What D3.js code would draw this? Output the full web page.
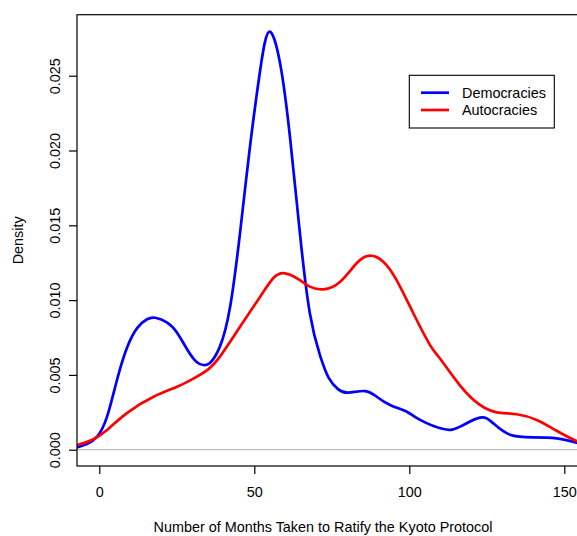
<!DOCTYPE html>
<html>
<head>
<meta charset="utf-8">
<script src="https://cdn.jsdelivr.net/npm/d3@7"></script>
<style>
  html, body { margin: 0; padding: 0; background: #fff; }
  svg { display: block; font-family: "Liberation Sans", Arial, Helvetica, sans-serif; }
</style>
</head>
<body>
<svg id="chart" width="577" height="536"></svg>
<script>
// Kernel density estimates of months taken to ratify the Kyoto Protocol
const seriesNames = ["Democracies", "Autocracies"];
const seriesColors = ["#0000ff", "#ff0000"];

const demMonths  = [-7.2, -4.0, -0.7, 2.5, 5.7, 8.9, 12.2, 15.4, 18.1, 21.9, 25.1, 28.3, 31.5, 33.7, 35.7, 38.9, 42.2, 45.4, 48.6, 51.9, 54.8, 58.3, 61.5, 64.7, 67.9, 71.2, 74.0, 77.0, 80.3, 85.7, 89.5, 93.8, 99.2, 103.5, 111.0, 116.4, 122.8, 127.1, 132.5, 140.0, 147.5, 154.0, 158.0];
const demDensity = [0.00015, 0.00038, 0.00087, 0.00221, 0.00466, 0.00680, 0.00813, 0.00872, 0.00882, 0.00850, 0.00782, 0.00672, 0.00584, 0.00566, 0.00580, 0.00689, 0.00956, 0.01449, 0.02025, 0.02538, 0.02794, 0.02585, 0.02092, 0.01449, 0.00914, 0.00630, 0.00480, 0.00405, 0.00381, 0.00392, 0.00354, 0.00299, 0.00254, 0.00199, 0.00138, 0.00154, 0.00214, 0.00176, 0.00100, 0.00083, 0.00076, 0.00047, 0.00030];

const autMonths  = [-7.2, -2.4, 2.5, 8.9, 17.5, 25.1, 30.5, 34.7, 38.9, 45.4, 51.9, 56.1, 59.9, 64.7, 67.9, 72.3, 77.7, 83.0, 87.3, 91.6, 95.9, 101.3, 106.7, 109.9, 116.4, 122.8, 128.2, 134.6, 141.1, 147.5, 154.0, 158.0];
const autDensity = [0.00031, 0.00065, 0.00132, 0.00245, 0.00354, 0.00421, 0.00477, 0.00530, 0.00622, 0.00822, 0.01023, 0.01146, 0.01179, 0.01134, 0.01090, 0.01072, 0.01123, 0.01246, 0.01297, 0.01257, 0.01134, 0.00912, 0.00699, 0.00610, 0.00429, 0.00299, 0.00250, 0.00237, 0.00199, 0.00127, 0.00058, 0.00030];

const xTicks = [0, 50, 100, 150];
const yTicks = [0, 0.005, 0.010, 0.015, 0.020, 0.025];

const xLabel = "Number of Months Taken to Ratify the Kyoto Protocol";
const yLabel = "Density";

// Plot region
const plot = { left: 77, right: 590, top: 14.7, bottom: 466 };

const svg = d3.select("#chart");

const x = d3.scaleLinear().domain([0, 150]).range([99.3, 564.3]);
const y = d3.scaleLinear().domain([0, 0.025]).range([449.7, 75.7]);

svg.append("clipPath").attr("id", "plot-clip")
  .append("rect")
  .attr("x", plot.left).attr("y", plot.top)
  .attr("width", plot.right - plot.left).attr("height", plot.bottom - plot.top);

const inner = svg.append("g").attr("clip-path", "url(#plot-clip)");

// Zero baseline
inner.append("line")
  .attr("x1", plot.left).attr("x2", plot.right)
  .attr("y1", y(0)).attr("y2", y(0))
  .attr("stroke", "#bebebe").attr("stroke-width", 1.2);

const line = d3.line()
  .x(d => x(d[0]))
  .y(d => y(d[1]))
  .curve(d3.curveNatural);

const series = [
  d3.zip(demMonths, demDensity),
  d3.zip(autMonths, autDensity)
];

series.forEach((pts, i) => {
  inner.append("path")
    .datum(pts)
    .attr("d", line)
    .attr("fill", "none")
    .attr("stroke", seriesColors[i])
    .attr("stroke-width", 2.7)
    .attr("stroke-linejoin", "round");
});

// Frame
svg.append("rect")
  .attr("x", plot.left).attr("y", plot.top)
  .attr("width", plot.right - plot.left).attr("height", plot.bottom - plot.top)
  .attr("fill", "none").attr("stroke", "#000").attr("stroke-width", 1.2);

// Axes
const fontSize = 14.4;

const xAxis = svg.append("g")
  .attr("transform", `translate(0,${plot.bottom})`)
  .call(d3.axisBottom(x).tickValues(xTicks).tickSize(8).tickPadding(13).tickFormat(d3.format("d")));
xAxis.select(".domain").remove();
xAxis.selectAll("line").attr("stroke", "#000").attr("stroke-width", 1.2);
xAxis.selectAll("text").attr("font-size", fontSize).attr("fill", "#000")
  .attr("font-family", "Liberation Sans, Arial, sans-serif");

const yAxis = svg.append("g")
  .attr("transform", `translate(${plot.left},0)`)
  .call(d3.axisLeft(y).tickValues(yTicks).tickSize(8).tickFormat(d3.format(".3f")));
yAxis.select(".domain").remove();
yAxis.selectAll("line").attr("stroke", "#000").attr("stroke-width", 1.2);
yAxis.selectAll("text")
  .attr("font-size", fontSize).attr("fill", "#000")
  .attr("font-family", "Liberation Sans, Arial, sans-serif")
  .attr("text-anchor", "middle")
  .attr("dy", null)
  .attr("x", 0)
  .attr("transform", "translate(-17,0) rotate(-90)");

// Axis titles
svg.append("text")
  .attr("x", 323).attr("y", 532)
  .attr("text-anchor", "middle")
  .attr("font-size", fontSize)
  .text(xLabel);

svg.append("text")
  .attr("transform", `translate(23,${(plot.top + plot.bottom) / 2}) rotate(-90)`)
  .attr("text-anchor", "middle")
  .attr("font-size", fontSize)
  .text(yLabel);

// Legend
const legend = svg.append("g");
legend.append("rect")
  .attr("x", 409.3).attr("y", 75.3)
  .attr("width", 145).attr("height", 52.7)
  .attr("fill", "#fff").attr("stroke", "#000").attr("stroke-width", 1.1);

seriesNames.forEach((name, i) => {
  const ly = 92.7 + i * 17.3;
  legend.append("line")
    .attr("x1", 421).attr("x2", 449)
    .attr("y1", ly).attr("y2", ly)
    .attr("stroke", seriesColors[i]).attr("stroke-width", 2.7);
  legend.append("text")
    .attr("x", 462).attr("y", ly + 5.2)
    .attr("font-size", fontSize)
    .text(name);
});
</script>
</body>
</html>
